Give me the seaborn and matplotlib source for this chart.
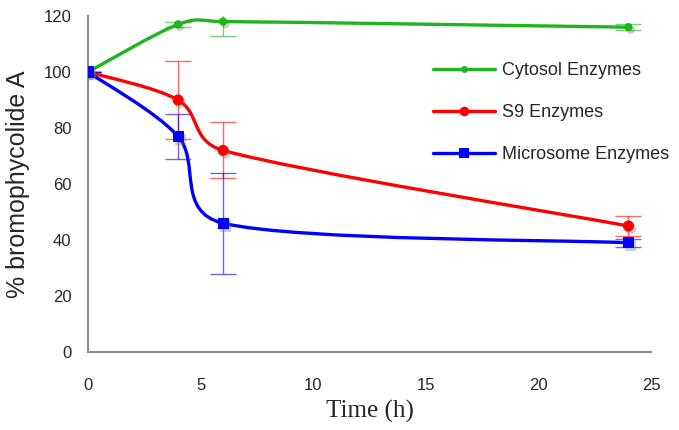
import numpy as np
import pandas as pd
import seaborn as sns
import matplotlib
matplotlib.use("Agg")
import matplotlib.pyplot as plt
from matplotlib.path import Path
from matplotlib.patches import PathPatch
from matplotlib.lines import Line2D
import matplotlib.patheffects as pe

# ---- data ----
time_h = [0, 4, 6, 24]
cytosol = [100, 117, 118, 116]
cytosol_err = [0, 1, 5, 1]
s9 = [100, 90, 72, 45]
s9_err = [0, 14, 10, 3.6]
microsome = [100, 77, 46, 39]
microsome_err = [0, 8, 18, 1.5]
series_names = ["Cytosol Enzymes", "S9 Enzymes", "Microsome Enzymes"]
x_ticks = [0, 5, 10, 15, 20, 25]
y_ticks = [0, 20, 40, 60, 80, 100, 120]

colors = ["#1fb51f", "#ff0000", "#0000ff"]
markers = ["o", "o", "s"]
msizes = [6, 8, 8]

sns.set_style("white")
plt.rcParams['font.family'] = ['Liberation Sans', 'DejaVu Sans']

fig = plt.figure(figsize=(6.79, 4.30), dpi=100)
ax = fig.add_axes([88/679, 1-352/430, (651-88)/679, (352-16)/430])
ax.set_xlim(0, 25)
ax.set_ylim(0, 120)

rows = []
for name, vals, errs in zip(series_names, [cytosol, s9, microsome],
                            [cytosol_err, s9_err, microsome_err]):
    for t, v, e in zip(time_h, vals, errs):
        rows.append(dict(series=name, time=t, value=v, err=e))
df = pd.DataFrame(rows)


def smooth_path(xs, ys):
    """Excel-style smoothed line: cubic Bezier segments through the data points,
    control points computed in display space with Excel's length limiting."""
    data = np.column_stack([xs, ys]).astype(float)
    P = ax.transData.transform(data)
    n = len(P)
    verts = [P[0]]
    codes = [Path.MOVETO]
    for i in range(n - 1):
        p0 = P[i - 1] if i > 0 else P[i]
        p1, p2 = P[i], P[i + 1]
        p3 = P[i + 2] if i + 2 < n else P[i + 1]
        d02 = np.hypot(*(p2 - p0))
        d13 = np.hypot(*(p3 - p1))
        d12 = np.hypot(*(p2 - p1))
        f1 = 1/6 if (d02/6 < d12/2 or d02 == 0) else d12/(2*d02)
        f2 = 1/6 if (d13/6 < d12/2 or d13 == 0) else d12/(2*d13)
        c1 = p1 + (p2 - p0) * f1
        c2 = p2 - (p3 - p1) * f2
        verts += [c1, c2, p2]
        codes += [Path.CURVE4] * 3
    verts = ax.transData.inverted().transform(np.array(verts))
    return Path(verts, codes)


shadow = [pe.SimplePatchShadow(offset=(1.5, -2), shadow_rgbFace="#777777", alpha=0.35), pe.Normal()]

handles = []
for name, col, mk, ms in zip(series_names, colors, markers, msizes):
    d = df[df.series == name]
    ax.errorbar(d.time, d.value, yerr=d.err, fmt="none", ecolor=col, alpha=0.6,
                elinewidth=1, capsize=9.5, capthick=1, zorder=1, clip_on=True)
    patch = PathPatch(smooth_path(d.time.values, d.value.values), facecolor="none",
                      edgecolor=col, lw=2.4, zorder=2, capstyle="round")
    ax.add_patch(patch)
    sns.lineplot(data=d, x="time", y="value", ax=ax, color=col, marker=mk,
                 markersize=ms, linestyle="", markeredgewidth=0, zorder=3,
                 legend=False, estimator=None, path_effects=shadow)
    handles.append(Line2D([0], [0], color=col, lw=2.4, marker=mk,
                          markersize=ms - 1, markeredgewidth=0))

ax.set_xlim(0, 25)
ax.set_ylim(0, 120)
ax.set_xticks(x_ticks)
ax.set_yticks(y_ticks)
ax.tick_params(axis="both", labelsize=12, length=0)
ax.tick_params(axis="x", pad=19)
ax.tick_params(axis="y", pad=12)
for s in ["top", "right"]:
    ax.spines[s].set_visible(False)
for s in ["left", "bottom"]:
    ax.spines[s].set_color("#8c8c8c")
    ax.spines[s].set_linewidth(1.5)

ax.set_xlabel("Time (h)", family=["Liberation Serif", "DejaVu Serif"], fontsize=18, labelpad=5)
ax.set_ylabel("% bromophycolide A", fontsize=18, labelpad=10)

ax.legend(handles, series_names, frameon=False, fontsize=13, loc="upper left",
          bbox_to_anchor=(433/679, 1-62/430), bbox_transform=fig.transFigure,
          borderpad=0, borderaxespad=0, handlelength=3.45, handletextpad=0.35,
          labelspacing=1.38)

fig.savefig("out.png", dpi=100)
